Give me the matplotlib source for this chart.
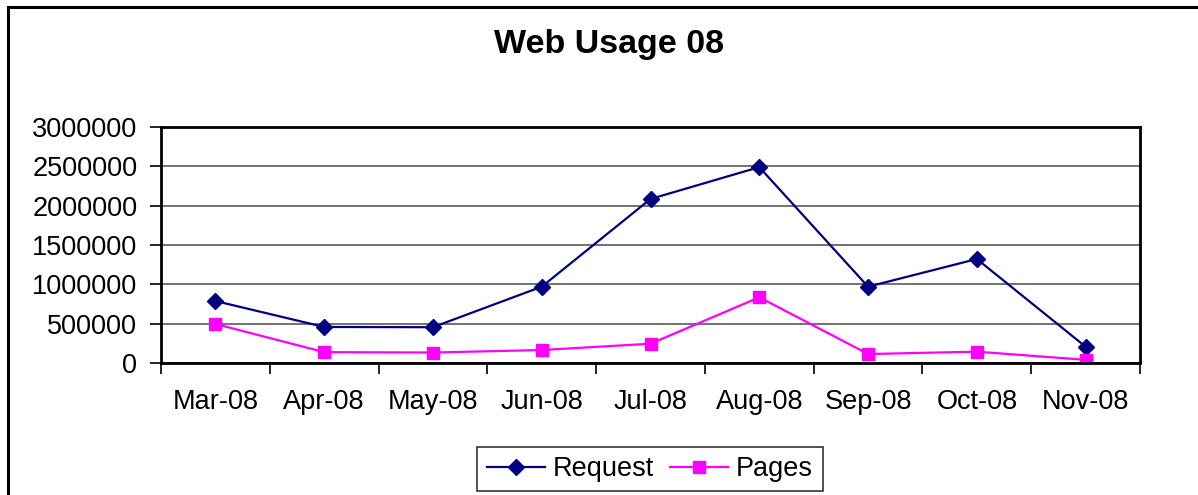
import numpy as np
import matplotlib.pyplot as plt
from matplotlib.patches import Rectangle

# Monthly web usage figures
months = ['Mar-08', 'Apr-08', 'May-08', 'Jun-08', 'Jul-08', 'Aug-08', 'Sep-08', 'Oct-08', 'Nov-08']
requests = [788000, 458000, 455000, 970000, 2085000, 2490000, 970000, 1322000, 207000]
pages = [496000, 138000, 133000, 165000, 245000, 835000, 114000, 144000, 40000]
yticks = [0, 500000, 1000000, 1500000, 2000000, 2500000, 3000000]

plt.rcParams['font.family'] = ['Liberation Sans', 'DejaVu Sans']

fig = plt.figure(figsize=(11.98, 4.95), dpi=100, facecolor='white')

# outer chart frame (runs off right/bottom edge like the source)
fig.patches.append(Rectangle((8 / 1198, -0.1), 1.2, 1.1 - 7 / 495, transform=fig.transFigure,
                             fill=False, edgecolor='black', lw=2.2))

ax = fig.add_axes([161 / 1198, 1 - 363 / 495, 979 / 1198, 236 / 495])

x = np.arange(len(months))
ax.plot(x, requests, color='#000080', lw=1.6, marker='D', markersize=8.5, label='Request')
ax.plot(x, pages, color='#FF00FF', lw=1.6, marker='s', markersize=8, label='Pages')

ax.set_xlim(-0.5, len(months) - 0.5)
ax.set_ylim(0, 3000000)
ax.set_yticks(yticks)
ax.set_yticklabels([str(v) for v in yticks], fontsize=19.5)
ax.set_xticks(x)
ax.set_xticklabels(months, fontsize=19.5)
ax.tick_params(axis='x', which='major', length=0, pad=19)
ax.set_xticks(np.arange(len(months) + 1) - 0.5, minor=True)
ax.tick_params(axis='x', which='minor', length=8, width=1.2, direction='out')
ax.tick_params(axis='y', length=8, width=1.2, direction='out', pad=9)

ax.grid(axis='y', color='#5a5a5a', lw=1.2)
ax.set_axisbelow(True)
for s in ax.spines.values():
    s.set_linewidth(2)
    s.set_color('black')

fig.text(609 / 1198, 1 - 45 / 495, 'Web Usage 08', ha='center', va='center',
         fontsize=24.5, fontweight='bold')

leg = fig.legend(loc='center', bbox_to_anchor=(650 / 1198, 1 - 469 / 495), ncol=2,
                 fontsize=19.5, frameon=True, fancybox=False, edgecolor='black',
                 handlelength=2.15, columnspacing=0.6, handletextpad=0.28,
                 borderpad=0.35)
leg.get_frame().set_linewidth(1.2)

plt.savefig('out.png', dpi=100, facecolor='white')
